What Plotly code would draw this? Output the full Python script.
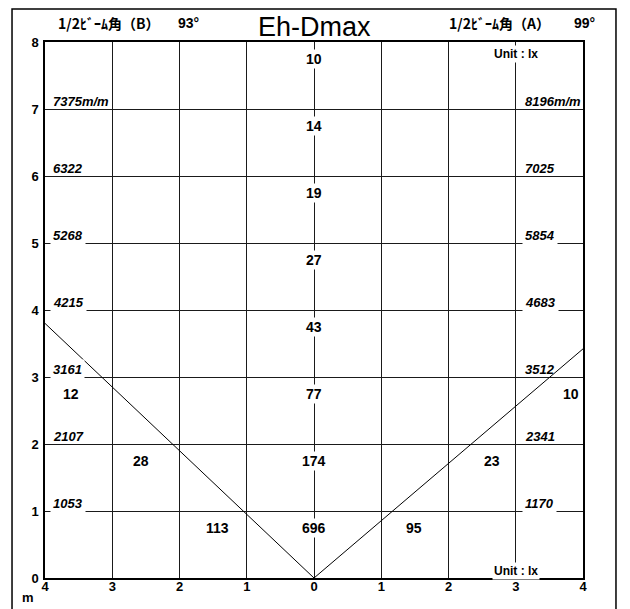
import plotly.graph_objects as go

# ---- data ----
heights = [8, 7, 6, 5, 4, 3, 2, 1]
center_lux = [10, 14, 19, 27, 43, 77, 174, 696]
center_lux_y = [7.75, 6.75, 5.75, 4.75, 3.75, 2.75, 1.75, 0.75]

left_lux = [12, 28, 113]
left_lux_x = [-3.61, -2.57, -1.43]
left_lux_y = [2.75, 1.75, 0.75]
right_lux = [10, 23, 95]
right_lux_x = [3.82, 2.65, 1.49]
right_lux_y = [2.75, 1.75, 0.75]

diam_heights = [7, 6, 5, 4, 3, 2, 1]
diam_left = ["7375m/m", "6322", "5268", "4215", "3161", "2107", "1053"]
diam_right = ["8196m/m", "7025", "5854", "4683", "3512", "2341", "1170"]
gap_left = [False, False, True, True, True, False, True]
gap_right = [False, False, True, True, False, False, True]

beam_x = [-4, 0, 4]
beam_y = [3.80, 0, 3.42]

x_ticks = [-4, -3, -2, -1, 0, 1, 2, 3, 4]
x_ticktext = ["4", "3", "2", "1", "0", "1", "2", "3", "4"]
y_ticks = [0, 1, 2, 3, 4, 5, 6, 7, 8]

half_angle_B = "93°"
half_angle_A = "99°"
title_text = "Eh-Dmax"

NUM_FONT = "Liberation Sans, Arial, sans-serif"
JP_FONT = "Noto Sans CJK JP, sans-serif"


def nf(size=13, italic=False):
    return dict(family=NUM_FONT, size=size, color="black", weight="bold",
                style="italic" if italic else "normal")


fig = go.Figure()
fig.add_trace(go.Scatter(x=beam_x, y=beam_y, mode="lines",
                         line=dict(color="black", width=1), hoverinfo="skip",
                         showlegend=False))

ann = []
# centre column lux values
for v, y in zip(center_lux, center_lux_y):
    ann.append(dict(x=0, y=y, text=str(v), showarrow=False, bgcolor="white",
                    xanchor="center", yanchor="middle", borderpad=1, font=nf(14)))
for v, x, y in zip(left_lux, left_lux_x, left_lux_y):
    ann.append(dict(x=x, y=y, text=str(v), showarrow=False,
                    xanchor="center", yanchor="middle", font=nf(14)))
for v, x, y in zip(right_lux, right_lux_x, right_lux_y):
    ann.append(dict(x=x, y=y, text=str(v), showarrow=False,
                    xanchor="center", yanchor="middle", font=nf(14)))

# diameter labels
for h, t, g in zip(diam_heights, diam_left, gap_left):
    ann.append(dict(x=-3.93, y=h, text=t, showarrow=False, xanchor="left", yanchor="bottom",
                    yshift=-3, borderpad=2, bgcolor="white" if g else "rgba(0,0,0,0)",
                    font=nf(13, True)))
for h, t, g in zip(diam_heights, diam_right, gap_right):
    ann.append(dict(x=3.10, y=h, text=t, showarrow=False, xanchor="left", yanchor="bottom",
                    yshift=-3, borderpad=2, bgcolor="white" if g else "rgba(0,0,0,0)",
                    font=nf(13, True)))

# unit labels
for y in [7.82, 0.1]:
    ann.append(dict(x=3.0, y=y, text="Unit : lx", showarrow=False, bgcolor="white", borderpad=1,
                    xanchor="center", yanchor="middle", font=nf(12)))

# header texts
ann.append(dict(xref="paper", yref="paper", x=0.5, y=1.028, xanchor="center", yanchor="middle",
                text=title_text, showarrow=False,
                font=dict(family="Liberation Sans, Arial, sans-serif", size=27, color="black")))
ann.append(dict(xref="paper", yref="paper", x=0.02, y=1.035, xanchor="left", yanchor="middle",
                text="1/2ﾋﾞｰﾑ角（B）", showarrow=False,
                font=dict(family=JP_FONT, size=14, color="black", weight="bold")))
ann.append(dict(xref="paper", yref="paper", x=0.244, y=1.035, xanchor="left", yanchor="middle",
                text=half_angle_B, showarrow=False, font=nf(14)))
ann.append(dict(xref="paper", yref="paper", x=0.747, y=1.035, xanchor="left", yanchor="middle",
                text="1/2ﾋﾞｰﾑ角（A）", showarrow=False,
                font=dict(family=JP_FONT, size=14, color="black", weight="bold")))
ann.append(dict(xref="paper", yref="paper", x=0.98, y=1.035, xanchor="left", yanchor="middle",
                text=half_angle_A, showarrow=False, font=nf(14)))
ann.append(dict(xref="paper", yref="paper", x=-0.031, y=-0.036, xanchor="center", yanchor="middle",
                text="m", showarrow=False, font=nf(13)))

fig.update_layout(
    width=630, height=609,
    margin=dict(l=45, r=47, t=42, b=31),
    paper_bgcolor="white", plot_bgcolor="white",
    showlegend=False,
    annotations=ann,
    shapes=[dict(type="rect", xref="paper", yref="paper", x0=-0.0613, x1=1.0613,
                 y0=-0.07, y1=1.0616, line=dict(color="black", width=1.5), layer="below")],
    xaxis=dict(range=[-4, 4], tickvals=x_ticks, ticktext=x_ticktext, showgrid=True,
               gridcolor="#1a1a1a", gridwidth=1, zeroline=False, showline=True,
               linecolor="black", linewidth=1.5, mirror=True, ticks="", ticklen=0,
               ticklabelstandoff=-4,
               tickfont=nf(13)),
    yaxis=dict(range=[0, 8], tickvals=y_ticks, showgrid=True, gridcolor="#1a1a1a",
               gridwidth=1, zeroline=False, showline=True, linecolor="black",
               linewidth=1.5, mirror=True, ticks="", ticklen=0, ticklabelstandoff=2,
               tickfont=nf(13)),
)

fig.write_html("out.html", config={"displayModeBar": False},
               post_script="document.body.style.margin='0';")
